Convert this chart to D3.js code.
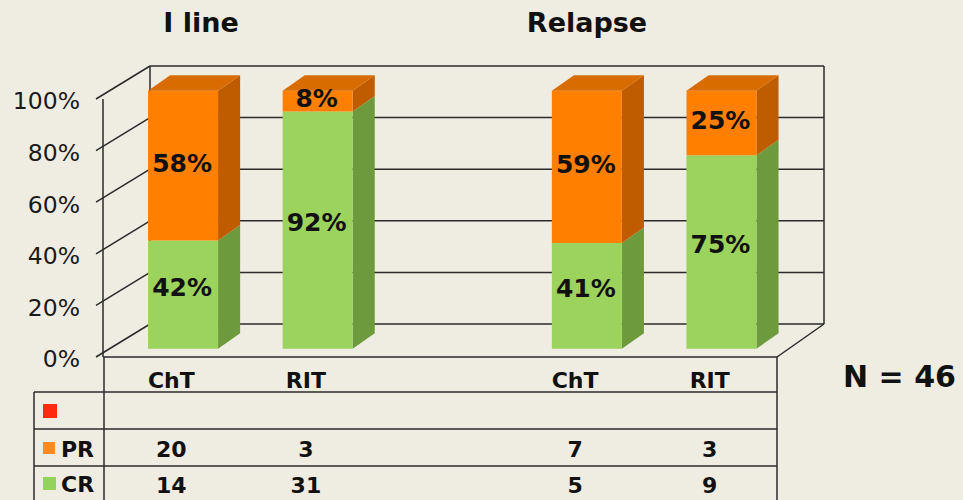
<!DOCTYPE html>
<html>
<head>
<meta charset="utf-8">
<script src="https://cdn.jsdelivr.net/npm/d3@7"></script>
<style>
  body { margin: 0; background: #efece2; }
  svg { display: block; font-family: "DejaVu Sans", Verdana, sans-serif; }
</style>
</head>
<body>
<div id="chart"></div>
<script>
// data
var categories = ["ChT", "RIT", "", "ChT", "RIT"];
var groupTitles = ["I line", "Relapse"];
var crPct = [42, 92, null, 41, 75];
var prPct = [58, 8, null, 59, 25];
var crCount = [14, 31, null, 5, 9];
var prCount = [20, 3, null, 7, 3];
var yTicks = [0, 20, 40, 60, 80, 100];

var width = 963, height = 500;
var bg = "#efece2";
var lineCol = "#2b2b2b";

// 3d depth vector for the box
var depthX = 47, depthY = -33;
var barFront = 0.25, barBack = 0.72;

var x = d3.scaleBand()
  .domain(d3.range(categories.length))
  .range([104, 777])
  .paddingInner(0.48)
  .paddingOuter(0.24);

var xCol = d3.scaleBand()
  .domain(d3.range(categories.length))
  .range([104, 777]);

var y = d3.scaleLinear().domain([0, 100]).range([357, 99]);

function pt(px, v, d) {
  return [px + d * depthX, y(v) + d * depthY];
}

var svg = d3.select("#chart").append("svg")
  .attr("width", width)
  .attr("height", height);

svg.append("rect").attr("width", width).attr("height", height).attr("fill", bg);

var frame = svg.append("g")
  .attr("stroke", lineCol)
  .attr("stroke-width", 1.5)
  .attr("fill", "none");

var x0 = 103, x1 = 777;

// back wall grid lines
yTicks.forEach(function(t) {
  var a = pt(x0, t, 1), b = pt(x1, t, 1);
  frame.append("line").attr("x1", a[0]).attr("y1", a[1]).attr("x2", b[0]).attr("y2", b[1]);
  // left wall diagonals
  var f = pt(x0, t, 0);
  frame.append("line").attr("x1", f[0] - 7).attr("y1", f[1]).attr("x2", a[0]).attr("y2", a[1]);
});

// back wall edges
var bl = pt(x0, 0, 1), tl = pt(x0, 100, 1), br = pt(x1, 0, 1), tr = pt(x1, 100, 1);
frame.append("line").attr("x1", bl[0]).attr("y1", bl[1]).attr("x2", tl[0]).attr("y2", tl[1]);
frame.append("line").attr("x1", br[0]).attr("y1", br[1]).attr("x2", tr[0]).attr("y2", tr[1]);

// front axis and floor
frame.append("line").attr("x1", x0).attr("y1", y(0)).attr("x2", x0).attr("y2", y(100));
frame.append("line").attr("x1", x0).attr("y1", y(0)).attr("x2", x1).attr("y2", y(0));
frame.append("line").attr("x1", x1).attr("y1", y(0)).attr("x2", br[0]).attr("y2", br[1]);

// tick labels
svg.append("g")
  .selectAll("text")
  .data(yTicks)
  .join("text")
  .attr("x", 80)
  .attr("y", function(d) { return y(d) + 2; })
  .attr("dy", "0.36em")
  .attr("text-anchor", "end")
  .attr("font-size", 23.5)
  .attr("fill", "#1a1a1a")
  .text(function(d) { return d + "%"; });

// bars
var colors = {
  cr: { front: "#9bd35d", side: "#6e9a3e", top: "#b9e08a" },
  pr: { front: "#ff8000", side: "#c05c00", top: "#d96c00" }
};

var barData = [];
categories.forEach(function(c, i) {
  if (crPct[i] == null) return;
  barData.push({ i: i, key: "cr", lo: 0, hi: crPct[i], top: false });
  barData.push({ i: i, key: "pr", lo: crPct[i], hi: crPct[i] + prPct[i], top: true });
});

var bars = svg.append("g");
barData.forEach(function(s) {
  var l = x(s.i), r = x(s.i) + x.bandwidth();
  var c = colors[s.key];
  var hi = Math.min(s.hi, 100);
  var fr = [pt(l, s.lo, barFront), pt(r, s.lo, barFront), pt(r, hi, barFront), pt(l, hi, barFront)];
  var side = [pt(r, s.lo, barFront), pt(r, s.lo, barBack), pt(r, hi, barBack), pt(r, hi, barFront)];
  bars.append("polygon").attr("points", side.join(" ")).attr("fill", c.side);
  bars.append("polygon").attr("points", fr.join(" ")).attr("fill", c.front);
  if (s.top) {
    var tp = [pt(l, hi, barFront), pt(r, hi, barFront), pt(r, hi, barBack), pt(l, hi, barBack)];
    bars.append("polygon").attr("points", tp.join(" ")).attr("fill", c.top);
  }
});

// value labels
var lblOffset = { cr: -8, pr: -3 };
svg.append("g")
  .selectAll("text")
  .data(barData)
  .join("text")
  .attr("x", function(d) { return pt(x(d.i) + x.bandwidth() / 2, 0, barFront)[0] - 1; })
  .attr("y", function(d) { return pt(0, (d.lo + Math.min(d.hi, 100)) / 2, barFront)[1] + lblOffset[d.key]; })
  .attr("dy", "0.36em")
  .attr("text-anchor", "middle")
  .attr("font-size", 25)
  .attr("font-weight", "bold")
  .attr("fill", "#111")
  .text(function(d) { return (d.key == "cr" ? crPct[d.i] : prPct[d.i]) + "%"; });

// titles
var titleX = [201, 587];
svg.append("g")
  .selectAll("text")
  .data(groupTitles)
  .join("text")
  .attr("x", function(d, i) { return titleX[i]; })
  .attr("y", 32)
  .attr("text-anchor", "middle")
  .attr("font-size", 27)
  .attr("font-weight", "bold")
  .attr("fill", "#111")
  .text(function(d) { return d; });

// data table
var rowLines = [392, 429, 466];
var tbl = svg.append("g").attr("stroke", lineCol).attr("stroke-width", 1.5);
rowLines.forEach(function(ry) {
  tbl.append("line").attr("x1", 34).attr("x2", x1).attr("y1", ry).attr("y2", ry);
});
tbl.append("line").attr("x1", 34).attr("x2", 34).attr("y1", 392).attr("y2", 500);
tbl.append("line").attr("x1", 104).attr("x2", 104).attr("y1", y(0)).attr("y2", 500);
tbl.append("line").attr("x1", x1).attr("x2", x1).attr("y1", y(0)).attr("y2", 500);

var tableText = svg.append("g")
  .attr("font-size", 22)
  .attr("font-weight", "bold")
  .attr("fill", "#111")
  .attr("text-anchor", "middle");

function colX(i) { return xCol(i) + xCol.bandwidth() / 2; }

tableText.selectAll("text.cat")
  .data(categories)
  .join("text")
  .attr("class", "cat")
  .attr("x", function(d, i) { return colX(i); })
  .attr("y", 388)
  .text(function(d) { return d; });

tableText.selectAll("text.pr")
  .data(prCount)
  .join("text")
  .attr("class", "pr")
  .attr("x", function(d, i) { return colX(i); })
  .attr("y", 457)
  .text(function(d) { return d == null ? "" : d; });

tableText.selectAll("text.crc")
  .data(crCount)
  .join("text")
  .attr("class", "crc")
  .attr("x", function(d, i) { return colX(i); })
  .attr("y", 493)
  .text(function(d) { return d == null ? "" : d; });

// legend keys in table
var legend = [
  { label: "", color: "#ff2a10", y: 404, s: 14 },
  { label: "PR", color: "#ff8a20", y: 442, s: 12 },
  { label: "CR", color: "#92d35a", y: 477, s: 13 }
];
var lg = svg.append("g");
lg.selectAll("rect")
  .data(legend)
  .join("rect")
  .attr("x", 43)
  .attr("y", function(d) { return d.y; })
  .attr("width", function(d) { return d.s; })
  .attr("height", function(d) { return d.s; })
  .attr("fill", function(d) { return d.color; });
lg.selectAll("text")
  .data(legend)
  .join("text")
  .attr("x", 61)
  .attr("y", function(d) { return d.y + 15; })
  .attr("font-size", 22)
  .attr("font-weight", "bold")
  .attr("fill", "#111")
  .text(function(d) { return d.label; });

// N label
svg.append("text")
  .attr("x", 843)
  .attr("y", 387)
  .attr("font-size", 30)
  .attr("font-weight", "bold")
  .attr("fill", "#111")
  .text("N = 46");
</script>
</body>
</html>
